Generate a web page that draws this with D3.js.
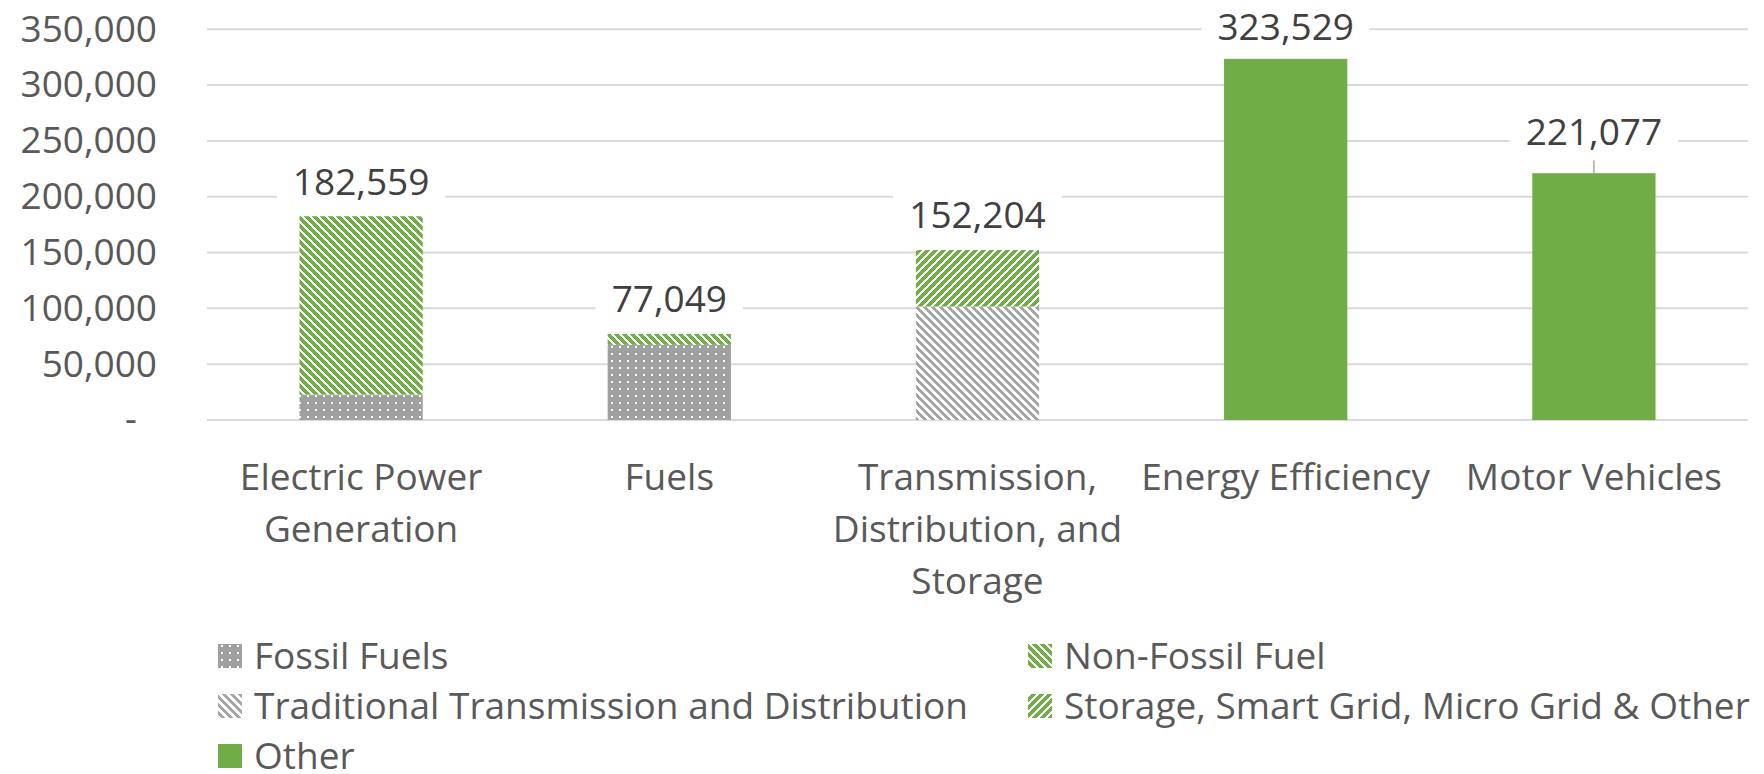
<!DOCTYPE html>
<html>
<head>
<meta charset="utf-8">
<title>Employment by technology</title>
<script src="https://cdn.jsdelivr.net/npm/d3@7"></script>
<style>
	body { margin: 0; background: #fff; }
	svg { display: block; font-family: "Open Sans", "Noto Sans", sans-serif; }
</style>
</head>
<body>
<div id="chart"></div>
<script>
/**********************************************************/
/*                                                        */
/*	Data                                                  */
/*                                                        */
/**********************************************************/

var categories = [
	"Electric Power Generation",
	"Fuels",
	"Transmission, Distribution, and Storage",
	"Energy Efficiency",
	"Motor Vehicles"
];

// One value per category, per series
var fossilFuels =      [22800, 67400, 0, 0, 0];
var nonFossilFuel =    [159759, 9649, 0, 0, 0];
var traditionalTD =    [0, 0, 101600, 0, 0];
var storageGrid =      [0, 0, 50604, 0, 0];
var other =            [0, 0, 0, 323529, 221077];

var seriesNames = [
	"Fossil Fuels",
	"Non-Fossil Fuel",
	"Traditional Transmission and Distribution",
	"Storage, Smart Grid, Micro Grid & Other",
	"Other"
];
var seriesValues = [fossilFuels, nonFossilFuel, traditionalTD, storageGrid, other];

var yTicks = [0, 50000, 100000, 150000, 200000, 250000, 300000, 350000];

/**********************************************************/
/*                                                        */
/*	Layout                                                */
/*                                                        */
/**********************************************************/

var W = 1764, H = 774;
var plot = { left: 207, right: 1748, top: 29.3, bottom: 420 };
var GREEN = "#70ad47", GREY = "#a5a5a5";
var FONT = 37;

// fill per series (pattern ids or plain colour)
var fills = ["url(#pat-dots)", "url(#pat-green-dn)", "url(#pat-grey-dn)", "url(#pat-green-up)", GREEN];

// label that Excel moved up and tied with a leader line
var labelNudge = { "Motor Vehicles": -7 };

var svg = d3.select("#chart").append("svg")
	.attr("width", W)
	.attr("height", H);
svg.append("rect").attr("width", W).attr("height", H).attr("fill", "#fff");

/**
 * Bitmap-like patterns (8 px period)
 */
var defs = svg.append("defs");

function stripePattern(id, color, dir, thick) {
	var p = defs.append("pattern")
		.attr("id", id)
		.attr("patternUnits", "userSpaceOnUse")
		.attr("width", 8).attr("height", 8)
		.attr("shape-rendering", "crispEdges");
	p.append("rect").attr("width", 8).attr("height", 8).attr("fill", "#fff");
	for (var row = 0; row < 8; row++) {
		for (var k = 0; k < thick; k++) {
			var x = dir == "dn" ? (row + k) % 8 : (((7 - row) + k) % 8);
			p.append("rect").attr("x", x).attr("y", row).attr("width", 1).attr("height", 1).attr("fill", color);
		}
	}
}
stripePattern("pat-green-dn", GREEN, "dn", 5);
stripePattern("pat-green-up", GREEN, "up", 5);
stripePattern("pat-grey-dn", GREY, "dn", 4);

var dots = defs.append("pattern")
	.attr("id", "pat-dots")
	.attr("patternUnits", "userSpaceOnUse")
	.attr("width", 8).attr("height", 7)
	.attr("shape-rendering", "crispEdges");
dots.append("rect").attr("width", 8).attr("height", 7).attr("fill", "#a0a0a0");
dots.append("rect").attr("x", 3).attr("y", 3).attr("width", 2).attr("height", 2).attr("fill", "#fff");

/**
 * Scales
 */
var x = d3.scaleBand()
	.domain(categories)
	.range([plot.left, plot.right])
	.paddingInner(0.6)
	.paddingOuter(0.3);

var y = d3.scaleLinear()
	.domain([0, 350000])
	.range([plot.bottom, plot.top]);

/**
 * Gridlines
 */
svg.append("g")
	.selectAll("line")
	.data(yTicks)
	.join("line")
	.attr("x1", plot.left).attr("x2", plot.right)
	.attr("y1", function(d) { return y(d); })
	.attr("y2", function(d) { return y(d); })
	.attr("stroke", "#d9d9d9")
	.attr("stroke-width", 2);

/**
 * Y axis
 */
var yAxis = svg.append("g")
	.attr("transform", "translate(" + plot.left + ",0)")
	.call(d3.axisLeft(y)
		.tickValues(yTicks)
		.tickSize(0)
		.tickPadding(50)
		.tickFormat(function(d) { return d == 0 ? "-" : d3.format(",")(d); }));
yAxis.select(".domain").remove();
yAxis.selectAll("text")
	.attr("font-size", FONT)
	.attr("font-family", "Open Sans")
	.attr("fill", "#595959")
	.attr("dx", function(d) { return d == 0 ? -20 : 0; });

/**
 * Stacked bars
 */
var rows = categories.map(function(c, i) {
	var r = { category: c };
	seriesNames.forEach(function(s, j) { r[s] = seriesValues[j][i]; });
	return r;
});
var stacked = d3.stack().keys(seriesNames)(rows);

svg.append("g")
	.selectAll("g")
	.data(stacked)
	.join("g")
	.attr("fill", function(d, i) { return fills[i]; })
	.selectAll("rect")
	.data(function(d) { return d.filter(function(e) { return e[1] - e[0] > 0; }); })
	.join("rect")
	.attr("x", function(d) { return x(d.data.category); })
	.attr("width", x.bandwidth())
	.attr("y", function(d) { return y(d[1]); })
	.attr("height", function(d) { return y(d[0]) - y(d[1]); });

/**
 * Total labels (white box hides gridlines)
 */
var totals = categories.map(function(c, i) {
	return { category: c, total: d3.sum(seriesValues, function(s) { return s[i]; }) };
});

var labels = svg.append("g")
	.selectAll("g")
	.data(totals)
	.join("g")
	.attr("transform", function(d) {
		var cy = Math.max(y(d.total) - 35 + (labelNudge[d.category] || 0), 27);
		return "translate(" + (x(d.category) + x.bandwidth() / 2) + "," + cy + ")";
	});

labels.each(function(d) {
	var g = d3.select(this);
	var nudge = labelNudge[d.category] || 0;
	if (nudge) {
		g.append("line")
			.attr("x1", 0).attr("x2", 0)
			.attr("y1", 29).attr("y2", 35 - nudge)
			.attr("stroke", "#a6a6a6")
			.attr("stroke-width", 1.5);
	}
	var box = g.append("rect").attr("fill", "#fff");
	var t = g.append("text")
		.attr("text-anchor", "middle")
		.attr("dy", "0.36em")
		.attr("font-size", FONT)
		.attr("fill", "#404040")
		.text(d3.format(",")(d.total));
	var w = t.node().getComputedTextLength();
	box.attr("x", -w / 2 - 16).attr("y", -29).attr("width", w + 32).attr("height", 58);
});

/**
 * Category labels (wrapped to band step)
 */
var step = x.step();
svg.append("g")
	.selectAll("text")
	.data(categories)
	.join("text")
	.attr("text-anchor", "middle")
	.attr("font-size", FONT)
	.attr("fill", "#595959")
	.attr("x", function(d) { return x(d) + x.bandwidth() / 2; })
	.attr("y", 490)
	.each(function(d) {
		var text = d3.select(this);
		var words = d.split(" ");
		var line = [];
		var tspan = text.append("tspan").attr("x", text.attr("x")).attr("dy", 0);
		words.forEach(function(wd) {
			line.push(wd);
			tspan.text(line.join(" "));
			if (tspan.node().getComputedTextLength() > step && line.length > 1) {
				line.pop();
				tspan.text(line.join(" "));
				line = [wd];
				tspan = text.append("tspan").attr("x", text.attr("x")).attr("dy", 52).text(wd);
			}
		});
	});

/**
 * Legend
 */
var legendCols = [218, 1028];
var legendRows = [656, 706, 756];

var legend = svg.append("g")
	.selectAll("g")
	.data(seriesNames)
	.join("g")
	.attr("transform", function(d, i) {
		return "translate(" + legendCols[i % 2] + "," + legendRows[Math.floor(i / 2)] + ")";
	});
legend.append("rect")
	.attr("x", 0).attr("y", -12)
	.attr("width", 24).attr("height", 24)
	.attr("fill", function(d, i) { return fills[i]; });
legend.append("text")
	.attr("x", 36)
	.attr("dy", "0.36em")
	.attr("font-size", FONT)
	.attr("fill", "#595959")
	.text(function(d) { return d; });
</script>
</body>
</html>
